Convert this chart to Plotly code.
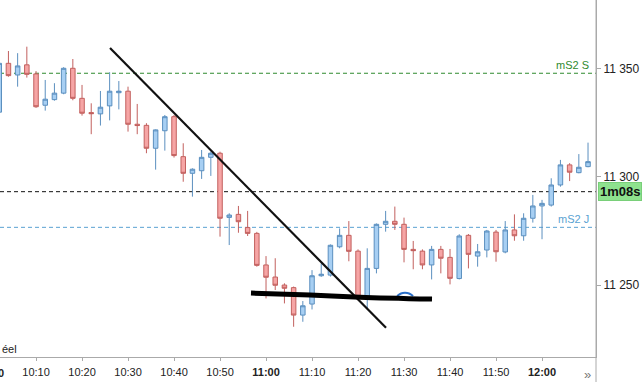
import plotly.graph_objects as go

day = "2024-01-15 "

times = ["10:02", "10:04", "10:06", "10:08", "10:10", "10:12", "10:14", "10:16", "10:18", "10:20",
         "10:22", "10:24", "10:26", "10:28", "10:30", "10:32", "10:34", "10:36", "10:38", "10:40",
         "10:42", "10:44", "10:46", "10:48", "10:50", "10:52", "10:54", "10:56", "10:58", "11:00",
         "11:02", "11:04", "11:06", "11:08", "11:10", "11:12", "11:14", "11:16", "11:18", "11:20",
         "11:22", "11:24", "11:26", "11:28", "11:30", "11:32", "11:34", "11:36", "11:38", "11:40",
         "11:42", "11:44", "11:46", "11:48", "11:50", "11:52", "11:54", "11:56", "11:58", "12:00",
         "12:02", "12:04", "12:06", "12:08", "12:10"]
opens = [11330.0, 11352.6, 11347.2, 11351.9, 11347.7, 11333.2, 11335.8, 11338.8, 11350.3, 11336.4,
         11329.8, 11329.2, 11332.9, 11339.0, 11339.7, 11324.4, 11323.9, 11313.3, 11321.4, 11327.9,
         11309.4, 11301.7, 11302.9, 11309.1, 11311.0, 11281.3, 11282.7, 11276.6, 11273.9, 11259.3,
         11253.7, 11250.0, 11248.8, 11236.1, 11241.2, 11254.3, 11254.6, 11267.7, 11273.0, 11265.7,
         11243.8, 11257.7, 11278.1, 11279.5, 11278.1, 11266.5, 11265.7, 11259.3, 11266.5, 11262.8,
         11253.0, 11273.0, 11263.4, 11266.2, 11274.5, 11265.3, 11275.5, 11272.8, 11280.9, 11286.6,
         11287.0, 11296.3, 11305.6, 11302.0, 11304.8]
highs = [11356.0, 11358.3, 11357.3, 11360.3, 11349.0, 11344.9, 11343.4, 11350.8, 11354.6, 11342.6,
         11334.1, 11339.8, 11348.5, 11344.4, 11341.8, 11333.8, 11324.9, 11322.0, 11328.7, 11328.7,
         11315.6, 11304.0, 11312.5, 11311.8, 11311.7, 11283.2, 11286.6, 11284.3, 11274.6, 11263.4,
         11262.4, 11250.8, 11249.3, 11242.6, 11256.9, 11260.0, 11268.8, 11276.2, 11279.6, 11266.5,
         11267.0, 11278.5, 11284.3, 11286.3, 11281.2, 11270.4, 11266.5, 11268.1, 11268.1, 11266.7,
         11273.5, 11273.6, 11269.0, 11275.5, 11275.5, 11279.6, 11282.7, 11283.2, 11291.7, 11289.4,
         11299.4, 11307.9, 11306.4, 11310.6, 11315.9]
lows = [11327.0, 11346.4, 11341.8, 11346.0, 11332.0, 11330.7, 11335.3, 11338.3, 11335.5, 11328.4,
        11319.8, 11323.8, 11326.2, 11331.3, 11321.0, 11319.8, 11311.0, 11303.4, 11312.2, 11309.0,
        11297.8, 11290.9, 11299.1, 11300.5, 11272.4, 11268.5, 11274.2, 11272.7, 11258.5, 11243.8,
        11247.7, 11241.5, 11230.7, 11233.0, 11238.7, 11253.8, 11253.9, 11267.0, 11261.0, 11243.0,
        11239.2, 11255.4, 11274.7, 11275.5, 11260.5, 11257.3, 11257.3, 11252.6, 11255.4, 11250.3,
        11252.6, 11257.7, 11258.5, 11262.8, 11260.8, 11264.7, 11270.5, 11270.5, 11278.9, 11271.2,
        11286.3, 11295.5, 11298.1, 11301.7, 11304.5]
closes = [11352.6, 11346.9, 11351.4, 11347.5, 11332.5, 11336.0, 11338.8, 11350.3, 11336.4, 11329.5,
          11329.3, 11332.3, 11339.7, 11339.7, 11324.4, 11323.8, 11313.3, 11321.8, 11327.9, 11309.9,
          11301.7, 11303.6, 11309.1, 11311.0, 11280.9, 11282.4, 11279.3, 11273.9, 11259.1, 11253.6,
          11249.9, 11248.5, 11236.1, 11240.4, 11254.3, 11255.0, 11268.4, 11273.0, 11265.6, 11243.8,
          11257.7, 11278.1, 11279.5, 11278.1, 11266.5, 11265.9, 11259.3, 11266.5, 11262.4, 11253.1,
          11272.7, 11264.2, 11265.4, 11275.0, 11265.4, 11275.5, 11272.8, 11280.9, 11286.6, 11287.8,
          11296.3, 11305.6, 11302.2, 11304.5, 11307.1]

x_tick_times = ["10:10", "10:20", "10:30", "10:40", "10:50", "11:00", "11:10", "11:20", "11:30",
                "11:40", "11:50", "12:00"]
x_tick_labels = ["10:10", "10:20", "10:30", "10:40", "10:50", "<b>11:00</b>", "11:10", "11:20",
                 "11:30", "11:40", "11:50", "<b>12:00</b>"]
y_ticks = [11250, 11300, 11350]

level_s = 11348.0      # mS2 S
level_last = 11293.2   # countdown level
level_j = 11276.7      # mS2 J

trend_times = ["10:26:05", "11:26:05"]
trend_prices = [11359.7, 11230.2]
support_times = ["10:56:44", "11:09:34", "11:20:26", "11:36:05"]
support_prices = [11246.3, 11245.4, 11244.4, 11243.5]
arc_times = ["11:28:30", "11:29:21", "11:30:12", "11:31:06", "11:31:58"]
arc_prices = [11244.9, 11246.1, 11246.4, 11246.1, 11244.9]

def dt(t):
    if t.count(":") == 1:
        t = t + ":00"
    return day + t

fig = go.Figure()
fig.add_trace(go.Candlestick(
    x=[dt(t) for t in times], open=opens, high=highs, low=lows, close=closes,
    increasing=dict(fillcolor="#a7cff3", line=dict(color="#5b8fbf", width=1)),
    decreasing=dict(fillcolor="#f6a5a5", line=dict(color="#c2605e", width=1)),
    whiskerwidth=0, showlegend=False, hoverinfo="skip"))

fig.add_trace(go.Scatter(x=[dt(t) for t in trend_times], y=trend_prices, mode="lines",
                         line=dict(color="#111111", width=2.2), showlegend=False, hoverinfo="skip"))
fig.add_trace(go.Scatter(x=[dt(t) for t in arc_times], y=arc_prices, mode="lines",
                         line=dict(color="#2a6fc8", width=2, shape="spline"), showlegend=False,
                         hoverinfo="skip"))
fig.add_trace(go.Scatter(x=[dt(t) for t in support_times], y=support_prices, mode="lines",
                         line=dict(color="#000000", width=5, shape="spline"), showlegend=False,
                         hoverinfo="skip"))

for lvl, col in [(level_s, "#2f8a2f"), (level_last, "#111111"), (level_j, "#5aa2d2")]:
    fig.add_shape(type="line", xref="x domain", x0=0, x1=1, yref="y", y0=lvl, y1=lvl,
                  line=dict(color=col, width=1, dash="4px,3px"), layer="below")

font = "Liberation Sans, Arial, sans-serif"
fig.add_annotation(xref="paper", x=1, xanchor="right", xshift=-5, yref="y", y=level_s,
                   yanchor="bottom", text="mS2 S", showarrow=False,
                   font=dict(family=font, size=11, color="#2f8a2f"))
fig.add_annotation(xref="paper", x=1, xanchor="right", xshift=-5, yref="y", y=level_j,
                   yanchor="bottom", text="mS2 J", showarrow=False,
                   font=dict(family=font, size=11, color="#5aa2d2"))
fig.add_annotation(xref="paper", x=1, xanchor="left", xshift=2, yref="y", y=level_last,
                   yanchor="middle", text="<b>1m08s</b>", showarrow=False,
                   bgcolor="#8ee28e", bordercolor="#79cf79", borderwidth=1, borderpad=1,
                   font=dict(family=font, size=13, color="#111111"))
fig.add_annotation(xref="paper", x=-10 / 596, xanchor="center", yref="paper", y=0,
                   yanchor="top", yshift=-8, text="<b>10:00</b>", showarrow=False,
                   font=dict(family=font, size=11, color="#222222"))
fig.add_annotation(xref="paper", x=0, xanchor="left", yref="paper", y=0, yanchor="bottom",
                   yshift=0, text="éel", showarrow=False,
                   font=dict(family=font, size=11, color="#222222"))
fig.add_annotation(xref="paper", x=0.985, xanchor="center", yref="paper", y=0, yanchor="top",
                   yshift=-8, text="»", showarrow=False,
                   font=dict(family=font, size=13, color="#777777"))
fig.add_shape(type="line", xref="paper", x0=1, x1=1, yref="paper", y0=-0.08, y1=1,
              line=dict(color="#aaaaaa", width=1))

fig.update_layout(
    width=643, height=382, margin=dict(l=0, r=47, t=0, b=25),
    paper_bgcolor="white", plot_bgcolor="white", separators=". ",
    font=dict(family=font, size=11, color="#222222"),
    xaxis=dict(type="date", range=[dt("10:02:10"), dt("12:11:44")],
               tickvals=[dt(t) for t in x_tick_times], ticktext=x_tick_labels,
               showgrid=False, zeroline=False, showline=True, linecolor="#aaaaaa",
               ticks="outside", ticklen=3, tickcolor="#aaaaaa", ticklabelstandoff=2,
               rangeslider=dict(visible=False),
               tickfont=dict(family=font, size=11, color="#222222")),
    yaxis=dict(side="right", range=[11216.7, 11381.9], tickvals=y_ticks, tickformat=",d",
               showgrid=False, zeroline=False, showline=True, linecolor="#aaaaaa",
               ticks="outside", ticklen=4, tickcolor="#aaaaaa",
               tickfont=dict(family=font, size=12, color="#222222")),
)

fig.write_html("out.html")
